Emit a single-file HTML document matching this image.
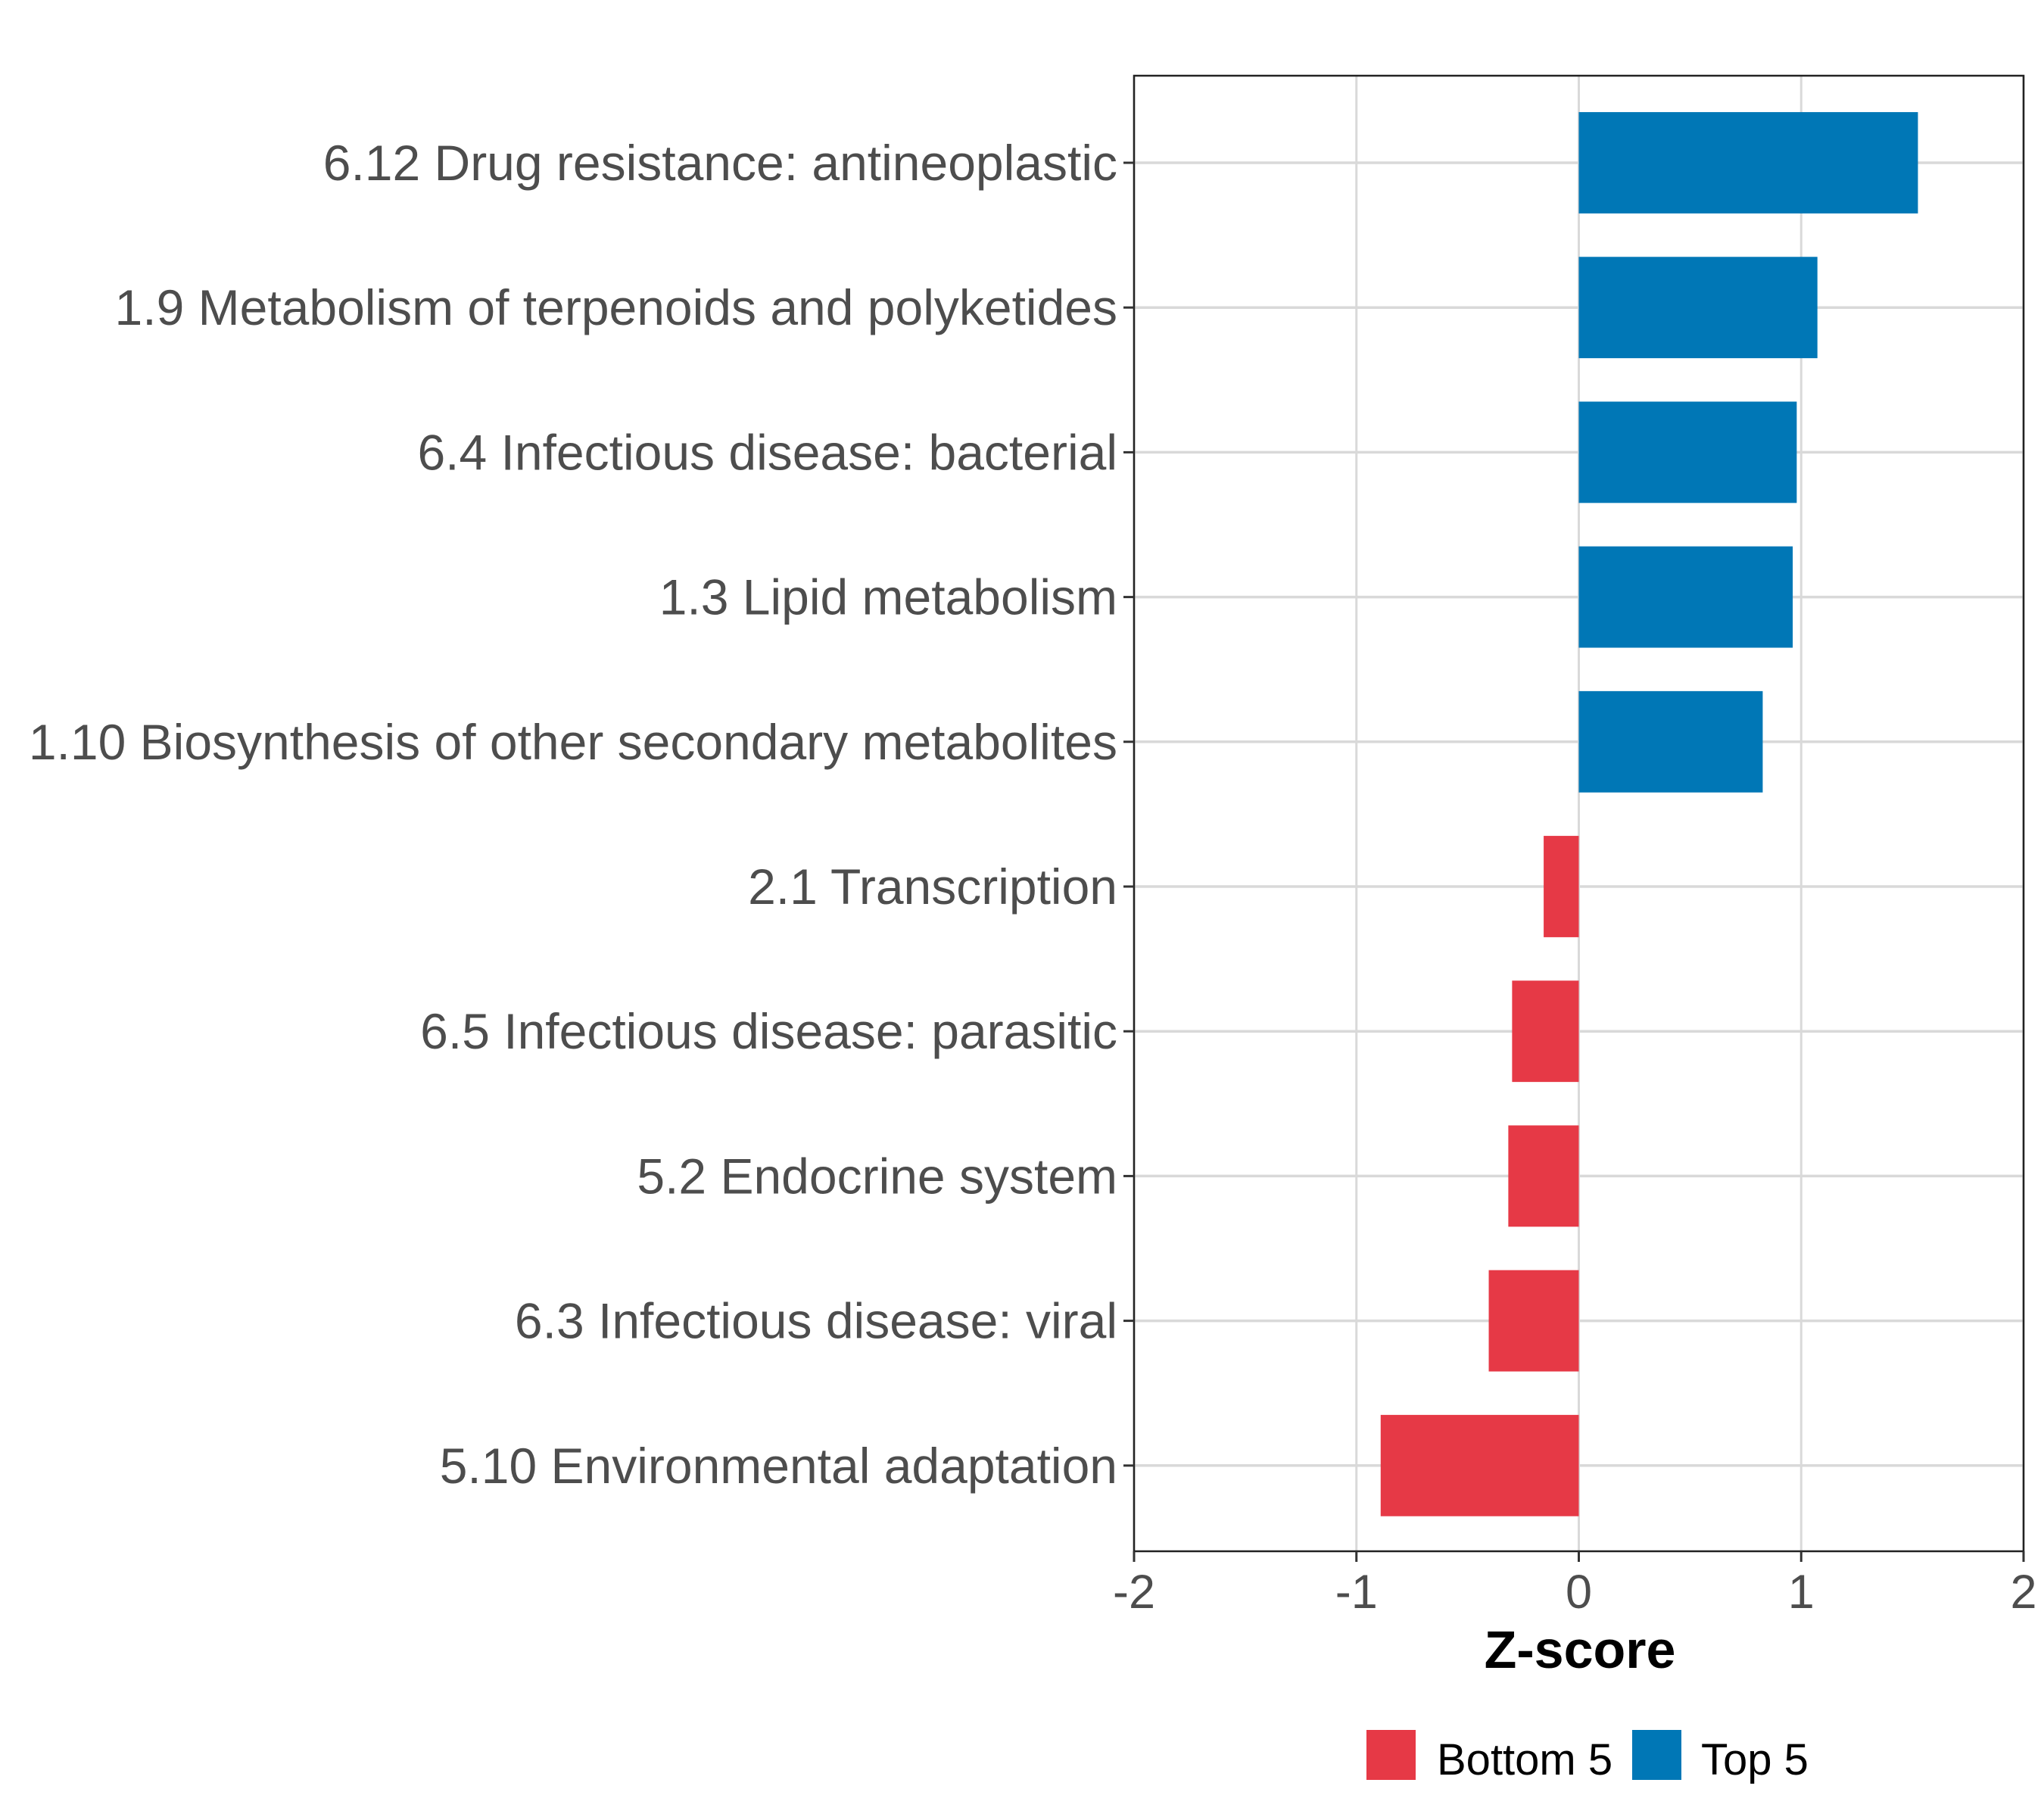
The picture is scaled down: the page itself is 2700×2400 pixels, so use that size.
<!DOCTYPE html>
<html><head><meta charset="utf-8"><style>
html,body{margin:0;padding:0;background:#fff;}
svg{display:block;font-family:"Liberation Sans",Arial,sans-serif;}
</style></head><body>
<svg id="chart" width="2700" height="2400" viewBox="0 0 2700 2400">
<rect x="0" y="0" width="2700" height="2400" fill="#fff"/>
<g id="grid"></g>
<g id="bars"></g>
<rect x="1498" y="100" width="1175" height="1949" fill="none" stroke="#222" stroke-width="2.5"/>
<g id="yaxis"></g>
<g id="xaxis"></g>
<text x="2087" y="2203" text-anchor="middle" font-size="70" font-weight="bold" fill="#000">Z-score</text>
<g>
<rect x="1805" y="2285" width="65" height="66" fill="#E63946"/>
<text x="1898" y="2344" font-size="58" fill="#000">Bottom 5</text>
<rect x="2156" y="2285" width="65" height="66" fill="#0077B6"/>
<text x="2247" y="2344" font-size="58" fill="#000">Top 5</text>
</g>
</svg>
<script>
const categories = ["6.12 Drug resistance: antineoplastic","1.9 Metabolism of terpenoids and polyketides","6.4 Infectious disease: bacterial","1.3 Lipid metabolism","1.10 Biosynthesis of other secondary metabolites","2.1 Transcription","6.5 Infectious disease: parasitic","5.2 Endocrine system","6.3 Infectious disease: viral","5.10 Environmental adaptation"];
const values = [1.525, 1.073, 0.98, 0.962, 0.827, -0.158, -0.30, -0.317, -0.405, -0.891];
const groups = ["Top 5","Top 5","Top 5","Top 5","Top 5","Bottom 5","Bottom 5","Bottom 5","Bottom 5","Bottom 5"];
const xTicks = [-2, -1, 0, 1, 2];
const xTickLabels = ["-2","-1","0","1","2"];

const NS = "http://www.w3.org/2000/svg";
const L = 1498, R = 2673, T = 100, B = 2049;
const xMin = -2, xMax = 2;
function xs(v){ return L + (v - xMin) / (xMax - xMin) * (R - L); }
const firstY = 215, step = 191.2;
function ys(i){ return firstY + i * step; }
const barH = 0.7 * step;
function mk(tag, attrs, parent){ const e = document.createElementNS(NS, tag); for (const k in attrs) e.setAttribute(k, attrs[k]); parent.appendChild(e); return e; }
const grid = document.getElementById('grid'), bars = document.getElementById('bars'), yaxis = document.getElementById('yaxis'), xaxis = document.getElementById('xaxis');
xTicks.forEach((t, i) => {
  const g = mk('line', {x1: xs(t), x2: xs(t), y1: T, y2: B, stroke: '#d9d9d9', 'stroke-width': 3}, grid);
  
  
  const tk = mk('line', {x1: xs(t), x2: xs(t), y1: B, y2: B + 14, stroke: '#333', 'stroke-width': 3}, xaxis);
  
  
  const tl = mk('text', {x: xs(t), y: 2124, 'text-anchor': 'middle', 'font-size': 63, fill: '#4d4d4d'}, xaxis);
  tl.textContent = xTickLabels[i];
  
  
});
categories.forEach((c, i) => {
  const y = ys(i);
  const g = mk('line', {x1: L, x2: R, y1: y, y2: y, stroke: '#d9d9d9', 'stroke-width': 3.5}, grid);
  
  
  const v = values[i];
  const x0 = xs(Math.min(0, v)), x1 = xs(Math.max(0, v));
  const b = mk('rect', {x: x0, y: y - barH / 2, width: x1 - x0, height: barH, fill: groups[i] === 'Top 5' ? '#0077B6' : '#E63946'}, bars);
  
  
  const tk = mk('line', {x1: L - 14, x2: L, y1: y, y2: y, stroke: '#333', 'stroke-width': 3}, yaxis);
  
  
  const tl = mk('text', {x: L - 22, y: y + 23, 'text-anchor': 'end', 'font-size': 66, fill: '#4d4d4d'}, yaxis);
  tl.textContent = c;
  
  
});
</script>
</body></html>
